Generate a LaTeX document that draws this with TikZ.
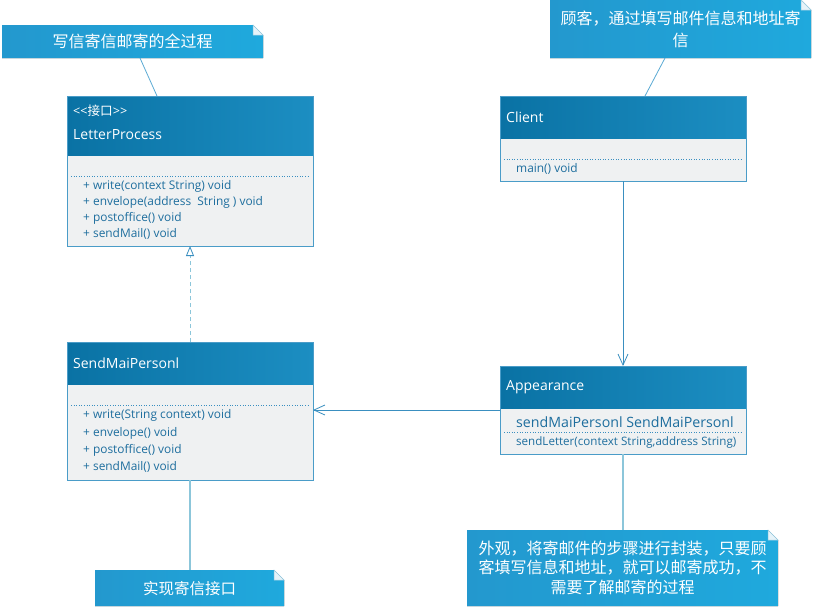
\documentclass[tikz,border=0pt]{standalone}
\usepackage{fontspec}
\setmainfont{Open Sans}
\newfontfamily\cjk{Noto Sans CJK SC}
\usetikzlibrary{arrows.meta}

\definecolor{headL}{HTML}{0A72A4}
\definecolor{headR}{HTML}{1C8EC2}
\definecolor{noteL}{HTML}{2398CE}
\definecolor{noteR}{HTML}{1FA9DD}
\definecolor{bodyfill}{HTML}{EFF1F2}
\definecolor{edge}{HTML}{4A9CC8}
\definecolor{txt}{HTML}{1E6E9E}
\definecolor{link}{HTML}{3A8FC0}
\definecolor{notelink}{HTML}{5BAAD4}
\definecolor{palelink}{HTML}{8CC6DA}
\definecolor{foldfill}{HTML}{E6F3F9}
\definecolor{foldedge}{HTML}{9ACBE0}

\newcommand\drawnote[1]{%
  \fill[notefill] (#1.north west) -- ([xshift=-10pt]#1.north east) -- ([yshift=-10pt]#1.north east) -- (#1.south east) -- (#1.south west) -- cycle;
  \filldraw[fill=foldfill,draw=foldedge,line width=0.5pt] ([xshift=-10pt]#1.north east) -- ([xshift=-10pt,yshift=-10pt]#1.north east) -- ([yshift=-10pt]#1.north east) -- cycle;
}
\newcommand\drawclass[3]{% name, header height, separator offset
  \fill[headfill] (#1.north west) rectangle ([yshift=-#2pt]#1.north east);
  \draw[edge,line width=0.8pt] (#1.north west) rectangle (#1.south east);
  \draw[sep] ([xshift=4pt,yshift=-#3pt]#1.north west) -- ([xshift=-5pt,yshift=-#3pt]#1.north east);
}

\begin{document}
\begin{tikzpicture}[x=1pt,y=-1pt,
  classbox/.style={fill=bodyfill,anchor=north west,inner sep=0pt,outer sep=0pt},
  notebox/.style={anchor=north west,inner sep=0pt,outer sep=0pt},
  headfill/.style={left color=headL,right color=headR},
  notefill/.style={left color=noteL,right color=noteR},
  htext/.style={anchor=west,text=white,font=\fontsize{14}{16}\selectfont,inner sep=0pt},
  stext/.style={anchor=west,text=white,font=\fontsize{12.6}{14}\selectfont,inner sep=0pt},
  mtext/.style={anchor=west,text=txt,font=\fontsize{11.9}{14}\selectfont,inner sep=0pt},
  atext/.style={anchor=west,text=txt,font=\fontsize{14.2}{16}\selectfont,inner sep=0pt},
  ntext/.style={text=white,font=\cjk\fontsize{16}{22}\selectfont,align=center,inner sep=0pt},
  sep/.style={draw=link,dotted,line width=0.6pt},
  assoc/.style={draw=link,line width=0.8pt,-{Straight Barb[length=11pt,width=10pt,line width=0.8pt]}},
  realize/.style={draw=palelink,dashed,dash pattern=on 4pt off 3pt,line width=1pt,-{Triangle[open,length=10pt,width=8pt,line width=0.8pt,fill=white,color=link]}},
  nlink/.style={draw=notelink,line width=0.8pt},
  plink/.style={draw=palelink,line width=1.2pt}
]
\useasboundingbox (0,0) rectangle (813,606);
\fill[white] (0,0) rectangle (813,606);

% ---- notes
\node[notebox,minimum width=261pt,minimum height=33pt] (n1) at (2,25) {};
\drawnote{n1}
\node[ntext] (t1) at (n1.center) {写信寄信邮寄的全过程};

\node[notebox,minimum width=261pt,minimum height=58pt] (n2) at (550,0) {};
\drawnote{n2}
\node[ntext] (t2) at ([yshift=-0.5pt]n2.center) {顾客，通过填写邮件信息和地址寄\\信};

\node[notebox,minimum width=189pt,minimum height=36pt] (n3) at (95,570) {};
\drawnote{n3}
\node[ntext,font=\cjk\fontsize{15.5}{20}\selectfont] (t3) at ([yshift=-1pt]n3.center) {实现寄信接口};

\node[notebox,minimum width=311pt,minimum height=76pt] (n4) at (467,530) {};
\drawnote{n4}
\node[ntext,font=\cjk\fontsize{16}{19.5}\selectfont] (t4) at ([yshift=0.5pt]n4.center) {外观，将寄邮件的步骤进行封装，只要顾\\客填写信息和地址，就可以邮寄成功，不\\需要了解邮寄的过程};

% ---- classes
\node[classbox,minimum width=246pt,minimum height=150pt] (lp) at (67,96) {};
\drawclass{lp}{59}{80}
\node[stext] (lps) at (73,110.5) {<\kern0pt<{\cjk 接口}>\kern0pt>};
\node[htext] (lpn) at (73,134.5) {LetterProcess};
\node[mtext] (lp1) at (83,186) {+ write(context String) void};
\node[mtext] (lp2) at (83,202) {+ envelope(address\ \ String ) void};
\node[mtext] (lp3) at (83,218) {+ postoffice() void};
\node[mtext] (lp4) at (83,234) {+ sendMail() void};

\node[classbox,minimum width=246pt,minimum height=85pt] (cl) at (500,96) {};
\drawclass{cl}{42}{63}
\node[htext] (cln) at (506,117.5) {Client};
\node[mtext] (cl1) at (516,169) {main() void};

\node[classbox,minimum width=246pt,minimum height=138pt] (smp) at (67,342) {};
\drawclass{smp}{42}{63}
\node[htext] (smpn) at (73,363.5) {SendMaiPersonl};
\node[mtext] (smp1) at (83,415) {+ write(String context) void};
\node[mtext] (smp2) at (83,433) {+ envelope() void};
\node[mtext] (smp3) at (83,450) {+ postoffice() void};
\node[mtext] (smp4) at (83,467) {+ sendMail() void};

\node[classbox,minimum width=246pt,minimum height=88pt] (ap) at (500,366) {};
\drawclass{ap}{42}{66}
\node[htext] (apn) at (506,387.5) {Appearance};
\node[atext] (ap0) at (516,422) {sendMaiPersonl\ SendMaiPersonl};
\node[mtext,font=\fontsize{11.6}{13}\selectfont] (ap1) at (516,442) {sendLetter(context String,address String)};

% ---- connectors
\draw[nlink] ([xshift=7.5pt]n1.south) -- ([xshift=-33pt]lp.north);
\draw[nlink] ([xshift=-15.5pt]n2.south) -- ([xshift=22pt]cl.north);
\draw[realize] (smp.north) -- (lp.south);
\draw[assoc] (cl.south) -- (ap.north);
\draw[assoc] (ap.west) -- (ap.west -| smp.east);
\draw[plink] (smp.south) -- (smp.south |- n3.north);
\draw[plink] (ap.south) -- (ap.south |- n4.north);
\end{tikzpicture}
\end{document}
